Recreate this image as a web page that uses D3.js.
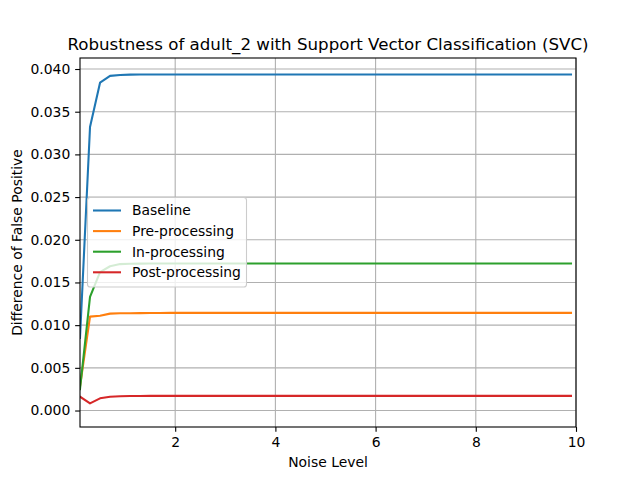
<!DOCTYPE html>
<html>
<head>
<meta charset="utf-8">
<script src="https://cdn.jsdelivr.net/npm/d3@7"></script>
<style>
html,body{margin:0;padding:0;background:#fff;}
svg{display:block;font-family:"DejaVu Sans",sans-serif;}
</style>
</head>
<body>
<svg id="chart" width="640" height="480"></svg>
<script>
const noise = [0.1,0.3,0.5,0.7,0.9,1.1,1.3,1.5,1.7,1.9,2.1,2.3,2.5,2.7,2.9,3.1,3.3,3.5,3.7,3.9,4.1,4.3,4.5,4.7,4.9,5.1,5.3,5.5,5.7,5.9,6.1,6.3,6.5,6.7,6.9,7.1,7.3,7.5,7.7,7.9,8.1,8.3,8.5,8.7,8.9,9.1,9.3,9.5,9.7,9.9];
const baseline = [0.0085,0.0332,0.0384,0.0392,0.0393,0.03934,0.03935,0.03936,0.03936,0.03936,0.03936,0.03936,0.03936,0.03936,0.03936,0.03936,0.03936,0.03936,0.03936,0.03936,0.03936,0.03936,0.03936,0.03936,0.03936,0.03936,0.03936,0.03936,0.03936,0.03936,0.03936,0.03936,0.03936,0.03936,0.03936,0.03936,0.03936,0.03936,0.03936,0.03936,0.03936,0.03936,0.03936,0.03936,0.03936,0.03936,0.03936,0.03936,0.03936,0.03936];
const preProcessing = [0.0028,0.0110,0.0111,0.01135,0.0114,0.0114,0.01141,0.01142,0.01143,0.01144,0.01144,0.01144,0.01144,0.01144,0.01144,0.01144,0.01144,0.01144,0.01144,0.01144,0.01144,0.01144,0.01144,0.01144,0.01144,0.01144,0.01144,0.01144,0.01144,0.01144,0.01144,0.01144,0.01144,0.01144,0.01144,0.01144,0.01144,0.01144,0.01144,0.01144,0.01144,0.01144,0.01144,0.01144,0.01144,0.01144,0.01144,0.01144,0.01144,0.01144];
const inProcessing = [0.0025,0.0133,0.0162,0.0169,0.01715,0.0172,0.01721,0.01722,0.01722,0.01722,0.01722,0.01722,0.01722,0.01722,0.01722,0.01722,0.01722,0.01722,0.01722,0.01722,0.01722,0.01722,0.01722,0.01722,0.01722,0.01722,0.01722,0.01722,0.01722,0.01722,0.01722,0.01722,0.01722,0.01722,0.01722,0.01722,0.01722,0.01722,0.01722,0.01722,0.01722,0.01722,0.01722,0.01722,0.01722,0.01722,0.01722,0.01722,0.01722,0.01722];
const postProcessing = [0.00162,0.00084,0.00143,0.00162,0.00168,0.0017,0.00171,0.00172,0.00172,0.00172,0.00172,0.00172,0.00172,0.00172,0.00172,0.00172,0.00172,0.00172,0.00172,0.00172,0.00172,0.00172,0.00172,0.00172,0.00172,0.00172,0.00172,0.00172,0.00172,0.00172,0.00172,0.00172,0.00172,0.00172,0.00172,0.00172,0.00172,0.00172,0.00172,0.00172,0.00172,0.00172,0.00172,0.00172,0.00172,0.00172,0.00172,0.00172,0.00172,0.00172];
const seriesNames = ["Baseline","Pre-processing","In-processing","Post-processing"];
const seriesColors = ["#1f77b4","#ff7f0e","#2ca02c","#d62728"];
const xTicks = [2,4,6,8,10];
const yTicks = [0.000,0.005,0.010,0.015,0.020,0.025,0.030,0.035,0.040];
const titleText = "Robustness of adult_2 with Support Vector Classification (SVC)";
const xLabel = "Noise Level";
const yLabel = "Difference of False Positive";

const series = [baseline, preProcessing, inProcessing, postProcessing];

const L = 80, R = 576, T = 58, B = 427;
const svg = d3.select("#chart");
const x = d3.scaleLinear().domain([0.1, 10]).range([L, R]);
const y = d3.scaleLinear().domain([-0.00193, 0.04129]).range([B, T]);

const fs = 13.9;
const tickLen = 4.86;

// grid
const grid = svg.append("g");
xTicks.forEach(t => grid.append("line").attr("x1", x(t)).attr("x2", x(t)).attr("y1", T).attr("y2", B)
  .attr("stroke", "#b0b0b0").attr("stroke-width", 1.1));
yTicks.forEach(t => grid.append("line").attr("x1", L).attr("x2", R).attr("y1", y(t)).attr("y2", y(t))
  .attr("stroke", "#b0b0b0").attr("stroke-width", 1.1));

// clip
svg.append("clipPath").attr("id", "clip").append("rect").attr("x", L).attr("y", T).attr("width", R - L).attr("height", B - T);

const line = d3.line().x((d, i) => x(noise[i])).y(d => y(d));
const lines = svg.append("g").attr("clip-path", "url(#clip)");
series.forEach((s, k) => {
  lines.append("path").datum(s).attr("d", line).attr("fill", "none")
    .attr("stroke", seriesColors[k]).attr("stroke-width", 2.08)
    .attr("stroke-linejoin", "round").attr("stroke-linecap", "square");
});

// axes
const xAxis = d3.axisBottom(x).tickValues(xTicks).tickFormat(d3.format("d")).tickSize(tickLen).tickPadding(4.86);
const gx = svg.append("g").attr("transform", `translate(0,${B})`).call(xAxis);
const yAxis = d3.axisLeft(y).tickValues(yTicks).tickFormat(d3.format(".3f")).tickSize(tickLen).tickPadding(4.86);
const gy = svg.append("g").attr("transform", `translate(${L},0)`).call(yAxis);
[gx, gy].forEach(g => {
  g.select(".domain").remove();
  g.selectAll(".tick line").attr("stroke", "#000").attr("stroke-width", 1.1);
  g.selectAll(".tick text").attr("font-size", fs).attr("font-family", "DejaVu Sans").attr("fill", "#000");
});

// spines
svg.append("rect").attr("x", L).attr("y", T).attr("width", R - L).attr("height", B - T)
  .attr("fill", "none").attr("stroke", "#000").attr("stroke-width", 1.1);

// title and labels
svg.append("text").attr("x", (L + R) / 2).attr("y", 50).attr("text-anchor", "middle")
  .attr("font-size", 16.67).text(titleText);
svg.append("text").attr("x", (L + R) / 2).attr("y", 467).attr("text-anchor", "middle")
  .attr("font-size", fs).text(xLabel);
svg.append("text").attr("transform", `translate(22,${(T + B) / 2}) rotate(-90)`).attr("text-anchor", "middle")
  .attr("font-size", fs).text(yLabel);

// legend
const lg = svg.append("g");
lg.append("rect").attr("x", 87.5).attr("y", 197.5).attr("width", 159).attr("height", 89.5).attr("rx", 2.8)
  .attr("fill", "#fff").attr("fill-opacity", 0.8).attr("stroke", "#cccccc").attr("stroke-width", 1.1);
seriesNames.forEach((n, k) => {
  const yy = 210.5 + k * 20.6;
  lg.append("line").attr("x1", 93).attr("x2", 121).attr("y1", yy).attr("y2", yy)
    .attr("stroke", seriesColors[k]).attr("stroke-width", 2.08);
  lg.append("text").attr("x", 132).attr("y", yy).attr("dy", "0.35em").attr("font-size", fs).text(n);
});
</script>
</body>
</html>
